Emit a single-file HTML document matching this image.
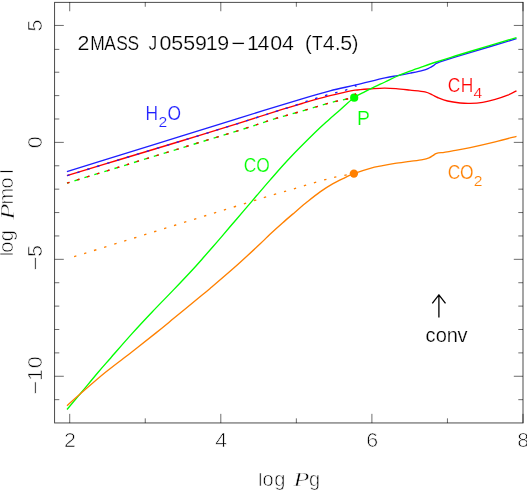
<!DOCTYPE html>
<html lang="en">
<head>
<meta charset="utf-8">
<title>log Pmol vs log Pg - 2MASS J055919-1404 (T4.5)</title>
<style>
html,body{margin:0;padding:0;background:#fff;}
body{width:527px;height:491px;overflow:hidden;font-family:"Liberation Sans",sans-serif;}
svg{display:block;}
</style>
</head>
<body>
<svg width="527" height="491" viewBox="0 0 527 491">
<rect width="527" height="491" fill="#fff"/>
<g stroke="#000" stroke-width="0.9" fill="none" stroke-opacity="0.78">
<rect x="54.60" y="2.35" width="468.40" height="420.60"/>
<path d="M69.71 423.05v-9.20 M69.71 2.05v9.20 M145.26 423.05v-4.70 M145.26 2.05v4.70 M220.81 423.05v-9.20 M220.81 2.05v9.20 M296.35 423.05v-4.70 M296.35 2.05v4.70 M371.90 423.05v-9.20 M371.90 2.05v9.20 M447.45 423.05v-4.70 M447.45 2.05v4.70 M523.00 423.05v-9.20 M523.00 2.05v9.20 M54.60 399.66h4.70 M523.00 399.66h-4.70 M54.60 376.27h9.20 M523.00 376.27h-9.20 M54.60 352.88h4.70 M523.00 352.88h-4.70 M54.60 329.49h4.70 M523.00 329.49h-4.70 M54.60 306.11h4.70 M523.00 306.11h-4.70 M54.60 282.72h4.70 M523.00 282.72h-4.70 M54.60 259.33h9.20 M523.00 259.33h-9.20 M54.60 235.94h4.70 M523.00 235.94h-4.70 M54.60 212.55h4.70 M523.00 212.55h-4.70 M54.60 189.16h4.70 M523.00 189.16h-4.70 M54.60 165.77h4.70 M523.00 165.77h-4.70 M54.60 142.38h9.20 M523.00 142.38h-9.20 M54.60 118.99h4.70 M523.00 118.99h-4.70 M54.60 95.61h4.70 M523.00 95.61h-4.70 M54.60 72.22h4.70 M523.00 72.22h-4.70 M54.60 49.38h4.70 M523.00 49.38h-4.70 M54.60 25.44h9.20 M523.00 25.44h-9.20 " stroke-opacity="0.64"/>
</g>
<g fill="none" stroke-width="1.35" stroke-linejoin="round">
<path d="M66.90 171.70 C75.75 168.93 100.82 161.07 120.00 155.10 C139.18 149.13 162.00 142.12 182.00 135.90 C202.00 129.68 220.00 123.98 240.00 117.80 C260.00 111.62 287.00 103.30 302.00 98.80 C317.00 94.30 321.02 93.12 330.00 90.80 C338.98 88.48 346.73 87.05 355.90 84.90 C365.07 82.75 378.05 79.45 385.00 77.90 C391.95 76.35 393.40 76.40 397.60 75.60 C401.80 74.80 405.98 73.98 410.20 73.10 C414.42 72.22 419.73 71.15 422.90 70.30 C426.07 69.45 427.52 68.73 429.20 68.00 C430.88 67.27 431.85 66.65 433.00 65.90 C434.15 65.15 435.05 64.12 436.10 63.50 C437.15 62.88 436.82 63.05 439.30 62.20 C441.78 61.35 445.88 60.00 451.00 58.40 C456.12 56.80 459.08 55.88 470.00 52.60 C480.92 49.32 508.75 41.02 516.50 38.70" stroke="#1f1fff"/>
<path d="M66.90 175.65 C75.75 172.96 100.82 165.32 120.00 159.50 C139.18 153.68 162.00 146.86 182.00 140.75 C202.00 134.64 224.33 127.76 240.00 122.85 C255.67 117.94 267.67 113.92 276.00 111.30 C284.33 108.67 285.67 108.40 290.00 107.10 C294.33 105.80 297.83 104.73 302.00 103.50 C306.17 102.27 310.33 101.02 315.00 99.70 C319.67 98.38 325.50 96.75 330.00 95.60 C334.50 94.45 337.83 93.70 342.00 92.80 C346.17 91.90 350.07 90.87 355.00 90.20 C359.93 89.53 366.72 89.15 371.60 88.80 C376.48 88.45 380.23 88.13 384.30 88.10 C388.37 88.07 391.72 88.27 396.00 88.60 C400.28 88.93 405.17 89.55 410.00 90.10 C414.83 90.65 421.23 91.08 425.00 91.90 C428.77 92.72 430.50 94.07 432.60 95.00 C434.70 95.93 435.10 96.50 437.60 97.50 C440.10 98.50 443.85 100.08 447.60 101.00 C451.35 101.92 456.33 102.60 460.10 103.00 C463.87 103.40 466.43 103.52 470.20 103.40 C473.97 103.28 478.53 102.97 482.70 102.30 C486.87 101.63 491.03 100.58 495.20 99.40 C499.37 98.22 504.15 96.63 507.70 95.20 C511.25 93.77 515.03 91.53 516.50 90.80" stroke="#ff0000"/>
<path d="M67.00 409.50 C69.18 406.92 74.87 400.25 80.10 394.00 C85.33 387.75 93.27 378.05 98.40 372.00 C103.53 365.95 105.33 364.05 110.90 357.70 C116.47 351.35 124.85 341.60 131.80 333.90 C138.75 326.20 145.65 318.83 152.60 311.50 C159.55 304.17 166.88 296.82 173.50 289.90 C180.12 282.98 187.38 275.32 192.30 270.00 C197.22 264.68 198.97 262.57 203.00 258.00 C207.03 253.43 212.00 247.80 216.50 242.60 C221.00 237.40 225.58 231.97 230.00 226.80 C234.42 221.63 238.58 216.77 243.00 211.60 C247.42 206.43 252.00 201.05 256.50 195.80 C261.00 190.55 264.42 186.43 270.00 180.10 C275.58 173.77 282.50 165.72 290.00 157.80 C297.50 149.88 308.65 138.83 315.00 132.60 C321.35 126.37 323.93 124.17 328.10 120.40 C332.27 116.63 335.65 113.82 340.00 110.00 C344.35 106.18 350.03 100.57 354.20 97.50 C358.37 94.43 361.53 93.42 365.00 91.60 C368.47 89.78 371.67 88.20 375.00 86.60 C378.33 85.00 381.23 83.77 385.00 82.00 C388.77 80.23 393.43 77.80 397.60 76.00 C401.77 74.20 405.78 72.77 410.00 71.20 C414.22 69.63 418.52 68.13 422.90 66.60 C427.28 65.07 431.62 63.55 436.30 62.00 C440.98 60.45 445.38 59.05 451.00 57.30 C456.62 55.55 459.08 54.78 470.00 51.50 C480.92 48.22 508.75 39.92 516.50 37.60" stroke="#00ff00"/>
<path d="M67.00 405.70 C69.18 403.75 73.63 399.62 80.10 394.00 C86.57 388.38 97.18 379.00 105.80 372.00 C114.42 365.00 123.43 358.52 131.80 352.00 C140.17 345.48 149.05 338.47 156.00 332.90 C162.95 327.33 166.17 324.63 173.50 318.60 C180.83 312.57 193.90 301.73 200.00 296.70 C206.10 291.67 204.23 293.38 210.10 288.40 C215.97 283.42 226.85 274.23 235.20 266.80 C243.55 259.37 254.40 249.23 260.20 243.80 C266.00 238.37 266.28 237.68 270.00 234.20 C273.72 230.72 278.33 226.57 282.50 222.90 C286.67 219.23 290.82 215.75 295.00 212.20 C299.18 208.65 303.42 204.98 307.60 201.60 C311.78 198.22 315.93 194.85 320.10 191.90 C324.27 188.95 328.43 186.28 332.60 183.90 C336.77 181.52 341.55 179.32 345.10 177.60 C348.65 175.88 349.72 175.15 353.90 173.60 C358.08 172.05 365.40 169.63 370.20 168.30 C375.00 166.97 378.57 166.42 382.70 165.60 C386.83 164.78 390.45 164.10 395.00 163.40 C399.55 162.70 405.38 162.03 410.00 161.40 C414.62 160.77 419.53 160.18 422.70 159.60 C425.87 159.02 427.32 158.55 429.00 157.90 C430.68 157.25 431.53 156.45 432.80 155.70 C434.07 154.95 434.70 153.97 436.60 153.40 C438.50 152.83 441.53 152.72 444.20 152.30 C446.87 151.88 448.27 151.68 452.60 150.90 C456.93 150.12 463.10 149.10 470.20 147.60 C477.30 146.10 487.48 143.78 495.20 141.90 C502.92 140.02 512.95 137.23 516.50 136.30" stroke="#ff8000"/>
<path d="M66.90 183.10 C75.75 180.38 101.65 172.43 120.00 166.80 C138.35 161.17 157.00 155.42 177.00 149.30 C197.00 143.18 223.50 135.25 240.00 130.10 C256.50 124.95 266.50 121.33 276.00 118.40 C285.50 115.47 288.00 115.08 297.00 112.50 C306.00 109.92 320.47 105.40 330.00 102.90 C339.53 100.40 350.17 98.40 354.20 97.50" stroke="#00ff00" stroke-dasharray="5.2 5.18" stroke-dashoffset="-8.0"/>
<circle cx="354.2" cy="97.65" r="4.1" fill="#00ff00" stroke="none"/>
<path d="M67.00 258.90 C68.33 258.48 65.25 259.43 75.00 256.40 C84.75 253.37 108.71 245.93 125.50 240.70 C142.29 235.47 159.17 230.17 175.75 225.00 C192.33 219.83 208.66 214.77 225.00 209.70 C241.34 204.63 262.33 198.07 273.80 194.60 C285.27 191.13 287.00 190.90 293.80 188.90 C300.60 186.90 307.72 184.55 314.60 182.60 C321.48 180.65 328.55 178.70 335.10 177.20 C341.65 175.70 350.77 174.20 353.90 173.60" stroke="#ff8000" stroke-dasharray="2.4 8.05" stroke-dashoffset="2.9"/>
<circle cx="353.9" cy="173.6" r="4.2" fill="#ff8000" stroke="none"/>
<path d="M66.90 183.10 C75.75 180.38 101.65 172.43 120.00 166.80 C138.35 161.17 157.00 155.42 177.00 149.30 C197.00 143.18 223.50 135.25 240.00 130.10 C256.50 124.95 266.50 121.33 276.00 118.40 C285.50 115.47 288.00 115.08 297.00 112.50 C306.00 109.92 320.47 105.40 330.00 102.90 C339.53 100.40 350.17 98.40 354.20 97.50" stroke="#ff0000" stroke-dasharray="2.5 7.88" stroke-dashoffset="-0.4"/>
<path d="M66.90 175.65 C75.75 172.96 100.82 165.32 120.00 159.50 C139.18 153.68 162.00 146.86 182.00 140.75 C202.00 134.64 224.33 127.76 240.00 122.85 C255.67 117.94 267.67 113.92 276.00 111.30 C284.33 108.67 284.83 108.78 290.00 107.10 C295.17 105.42 302.50 102.72 307.00 101.20 C311.50 99.68 313.67 99.03 317.00 98.00 C320.33 96.97 323.67 95.95 327.00 95.00 C330.33 94.05 333.77 93.17 337.00 92.30 C340.23 91.43 343.25 90.98 346.40 89.80 C349.55 88.62 354.32 85.97 355.90 85.20" stroke="#1f1fff" stroke-dasharray="2.5 7.88" stroke-dashoffset="-0.4"/>
</g>
<path d="M355.4 94.7V93.3" stroke="#ff0000" stroke-width="1.3"/>
<path d="M355.9 85.4V87.0" stroke="#1f1fff" stroke-width="1.2"/>
<path d="M438.9 317.6V295.0M432.3 303.3L438.9 294.8L445.5 303.3" stroke="#000" stroke-width="1.3" fill="none" stroke-linejoin="round"/>
<g font-family="'Liberation Sans', sans-serif" opacity="0.999">
<g fill="#000" text-anchor="middle" stroke="#fff" stroke-width="0.22"><text transform="translate(83.50 49.80) scale(1.070 1.000)" font-size="20.00">2</text><text transform="translate(97.50 49.80) scale(0.870 1.000)" font-size="20.00">M</text><text transform="translate(110.10 49.80) scale(0.870 1.000)" font-size="20.00">A</text><text transform="translate(122.00 49.80) scale(0.870 1.000)" font-size="20.00">S</text><text transform="translate(133.40 49.80) scale(0.870 1.000)" font-size="20.00">S</text><text transform="translate(152.90 49.80) scale(0.870 1.000)" font-size="20.00">J</text><text transform="translate(165.40 49.80) scale(1.070 1.000)" font-size="20.00">0</text><text transform="translate(177.20 49.80) scale(1.070 1.000)" font-size="20.00">5</text><text transform="translate(189.30 49.80) scale(1.070 1.000)" font-size="20.00">5</text><text transform="translate(201.00 49.80) scale(1.070 1.000)" font-size="20.00">9</text><text transform="translate(211.60 49.80) scale(1.070 1.000)" font-size="20.00">1</text><text transform="translate(223.10 49.80) scale(1.070 1.000)" font-size="20.00">9</text><text transform="translate(238.20 49.80) scale(1.200 1.000)" font-size="20.00">−</text><text transform="translate(253.00 49.80) scale(1.070 1.000)" font-size="20.00">1</text><text transform="translate(263.40 49.80) scale(1.070 1.000)" font-size="20.00">4</text><text transform="translate(276.20 49.80) scale(1.070 1.000)" font-size="20.00">0</text><text transform="translate(288.00 49.80) scale(1.070 1.000)" font-size="20.00">4</text><text transform="translate(308.30 49.80) scale(1.000 1.000)" font-size="20.00">(</text><text transform="translate(317.20 49.80) scale(0.870 1.000)" font-size="20.00">T</text><text transform="translate(328.60 49.80) scale(1.070 1.000)" font-size="20.00">4</text><text transform="translate(337.70 49.80) scale(1.000 1.000)" font-size="20.00">.</text><text transform="translate(346.30 49.80) scale(1.070 1.000)" font-size="20.00">5</text><text transform="translate(355.20 49.80) scale(1.000 1.000)" font-size="20.00">)</text></g>
<g fill="#1f1fff" text-anchor="middle" stroke="#fff" stroke-width="0.22"><text transform="translate(151.80 120.00) scale(0.870 1.000)" font-size="20.00">H</text><text transform="translate(174.30 120.00) scale(0.870 1.000)" font-size="20.00">O</text></g>
<g fill="#1f1fff" text-anchor="middle" stroke="#fff" stroke-width="0.22"><text transform="translate(162.90 127.30) scale(1.070 1.000)" font-size="14.70">2</text></g>
<g fill="#00ff00" text-anchor="middle" stroke="#fff" stroke-width="0.22"><text transform="translate(250.00 171.70) scale(0.870 1.000)" font-size="20.00">C</text><text transform="translate(263.00 171.70) scale(0.870 1.000)" font-size="20.00">O</text></g>
<g fill="#00ff00" text-anchor="middle" stroke="#fff" stroke-width="0.22"><text transform="translate(363.40 124.80) scale(0.970 1.000)" font-size="20.00">P</text></g>
<g fill="#ff0000" text-anchor="middle" stroke="#fff" stroke-width="0.22"><text transform="translate(454.00 91.60) scale(0.870 1.000)" font-size="20.00">C</text><text transform="translate(467.10 91.60) scale(0.870 1.000)" font-size="20.00">H</text></g>
<g fill="#ff0000" text-anchor="middle" stroke="#fff" stroke-width="0.22"><text transform="translate(478.00 98.30) scale(1.070 1.000)" font-size="14.70">4</text></g>
<g fill="#ff8000" text-anchor="middle" stroke="#fff" stroke-width="0.22"><text transform="translate(454.00 178.60) scale(0.870 1.000)" font-size="20.00">C</text><text transform="translate(466.80 178.60) scale(0.870 1.000)" font-size="20.00">O</text></g>
<g fill="#ff8000" text-anchor="middle" stroke="#fff" stroke-width="0.22"><text transform="translate(478.20 185.60) scale(1.070 1.000)" font-size="14.70">2</text></g>
<g fill="#000" text-anchor="middle" stroke="#fff" stroke-width="0.22"><text transform="translate(430.50 342.20) scale(1.000 1.000)" font-size="20.00">c</text><text transform="translate(441.30 342.20) scale(1.000 1.000)" font-size="20.00">o</text><text transform="translate(452.20 342.20) scale(1.000 1.000)" font-size="20.00">n</text><text transform="translate(462.60 342.20) scale(1.000 1.000)" font-size="20.00">v</text></g>
<g fill="#000" text-anchor="middle" stroke="#fff" stroke-width="0.65"><text transform="translate(69.91 446.50) scale(1.070 1.000)" font-size="20.00">2</text><text transform="translate(221.11 446.50) scale(1.070 1.000)" font-size="20.00">4</text><text transform="translate(372.20 446.50) scale(1.070 1.000)" font-size="20.00">6</text><text transform="translate(523.30 446.50) scale(1.070 1.000)" font-size="20.00">8</text></g>
<g fill="#000" text-anchor="middle" stroke="#fff" stroke-width="0.65"><text transform="translate(260.20 485.60) scale(1.000 0.915)" font-size="20.00">l</text><text transform="translate(268.00 485.60) scale(1.000 1.000)" font-size="20.00">o</text><text transform="translate(279.70 485.60) scale(1.000 1.000)" font-size="20.00">g</text></g>
<g fill="#000" text-anchor="middle" stroke="#fff" stroke-width="0.45"><text transform="translate(301.40 486.00) scale(1.400 1.000)" font-size="18.60" font-family="'Liberation Serif', serif" font-style="italic">P</text></g>
<g fill="#000" text-anchor="middle" stroke="#fff" stroke-width="0.65"><text transform="translate(314.50 485.60) scale(1.000 1.000)" font-size="20.00">g</text></g>
<g transform="translate(42.3 0) rotate(-90)">
<g fill="#000" text-anchor="middle" stroke="#fff" stroke-width="0.65"><text transform="translate(-25.44 0.00) scale(1.070 1.000)" font-size="20.00">5</text></g>
<g fill="#000" text-anchor="middle" stroke="#fff" stroke-width="0.65"><text transform="translate(-142.38 0.00) scale(1.070 1.000)" font-size="20.00">0</text></g>
<g fill="#000" text-anchor="middle" stroke="#fff" stroke-width="0.65"><text transform="translate(-263.50 0.00) scale(1.200 1.000)" font-size="20.00">−</text><text transform="translate(-251.00 0.00) scale(1.070 1.000)" font-size="20.00">5</text></g>
<g fill="#000" text-anchor="middle" stroke="#fff" stroke-width="0.65"><text transform="translate(-387.80 0.00) scale(1.200 1.000)" font-size="20.00">−</text><text transform="translate(-375.00 0.00) scale(1.070 1.000)" font-size="20.00">1</text><text transform="translate(-362.40 0.00) scale(1.070 1.000)" font-size="20.00">0</text></g>
</g>
<g transform="translate(12.6 0) rotate(-90)">
<g fill="#000" text-anchor="middle" stroke="#fff" stroke-width="0.65"><text transform="translate(-254.00 0.00) scale(1.000 0.915)" font-size="20.00">l</text><text transform="translate(-247.20 0.00) scale(1.000 1.000)" font-size="20.00">o</text><text transform="translate(-235.60 0.00) scale(1.000 1.000)" font-size="20.00">g</text></g>
<g fill="#000" text-anchor="middle" stroke="#fff" stroke-width="0.45"><text transform="translate(-211.60 0.90) scale(1.400 1.000)" font-size="18.60" font-family="'Liberation Serif', serif" font-style="italic">P</text></g>
<g fill="#000" text-anchor="middle" stroke="#fff" stroke-width="0.65"><text transform="translate(-196.20 0.00) scale(1.000 1.000)" font-size="20.00">m</text><text transform="translate(-183.00 0.00) scale(1.000 1.000)" font-size="20.00">o</text><text transform="translate(-171.50 0.00) scale(1.000 0.915)" font-size="20.00">l</text></g>
</g>
</g>
</svg>
</body>
</html>
